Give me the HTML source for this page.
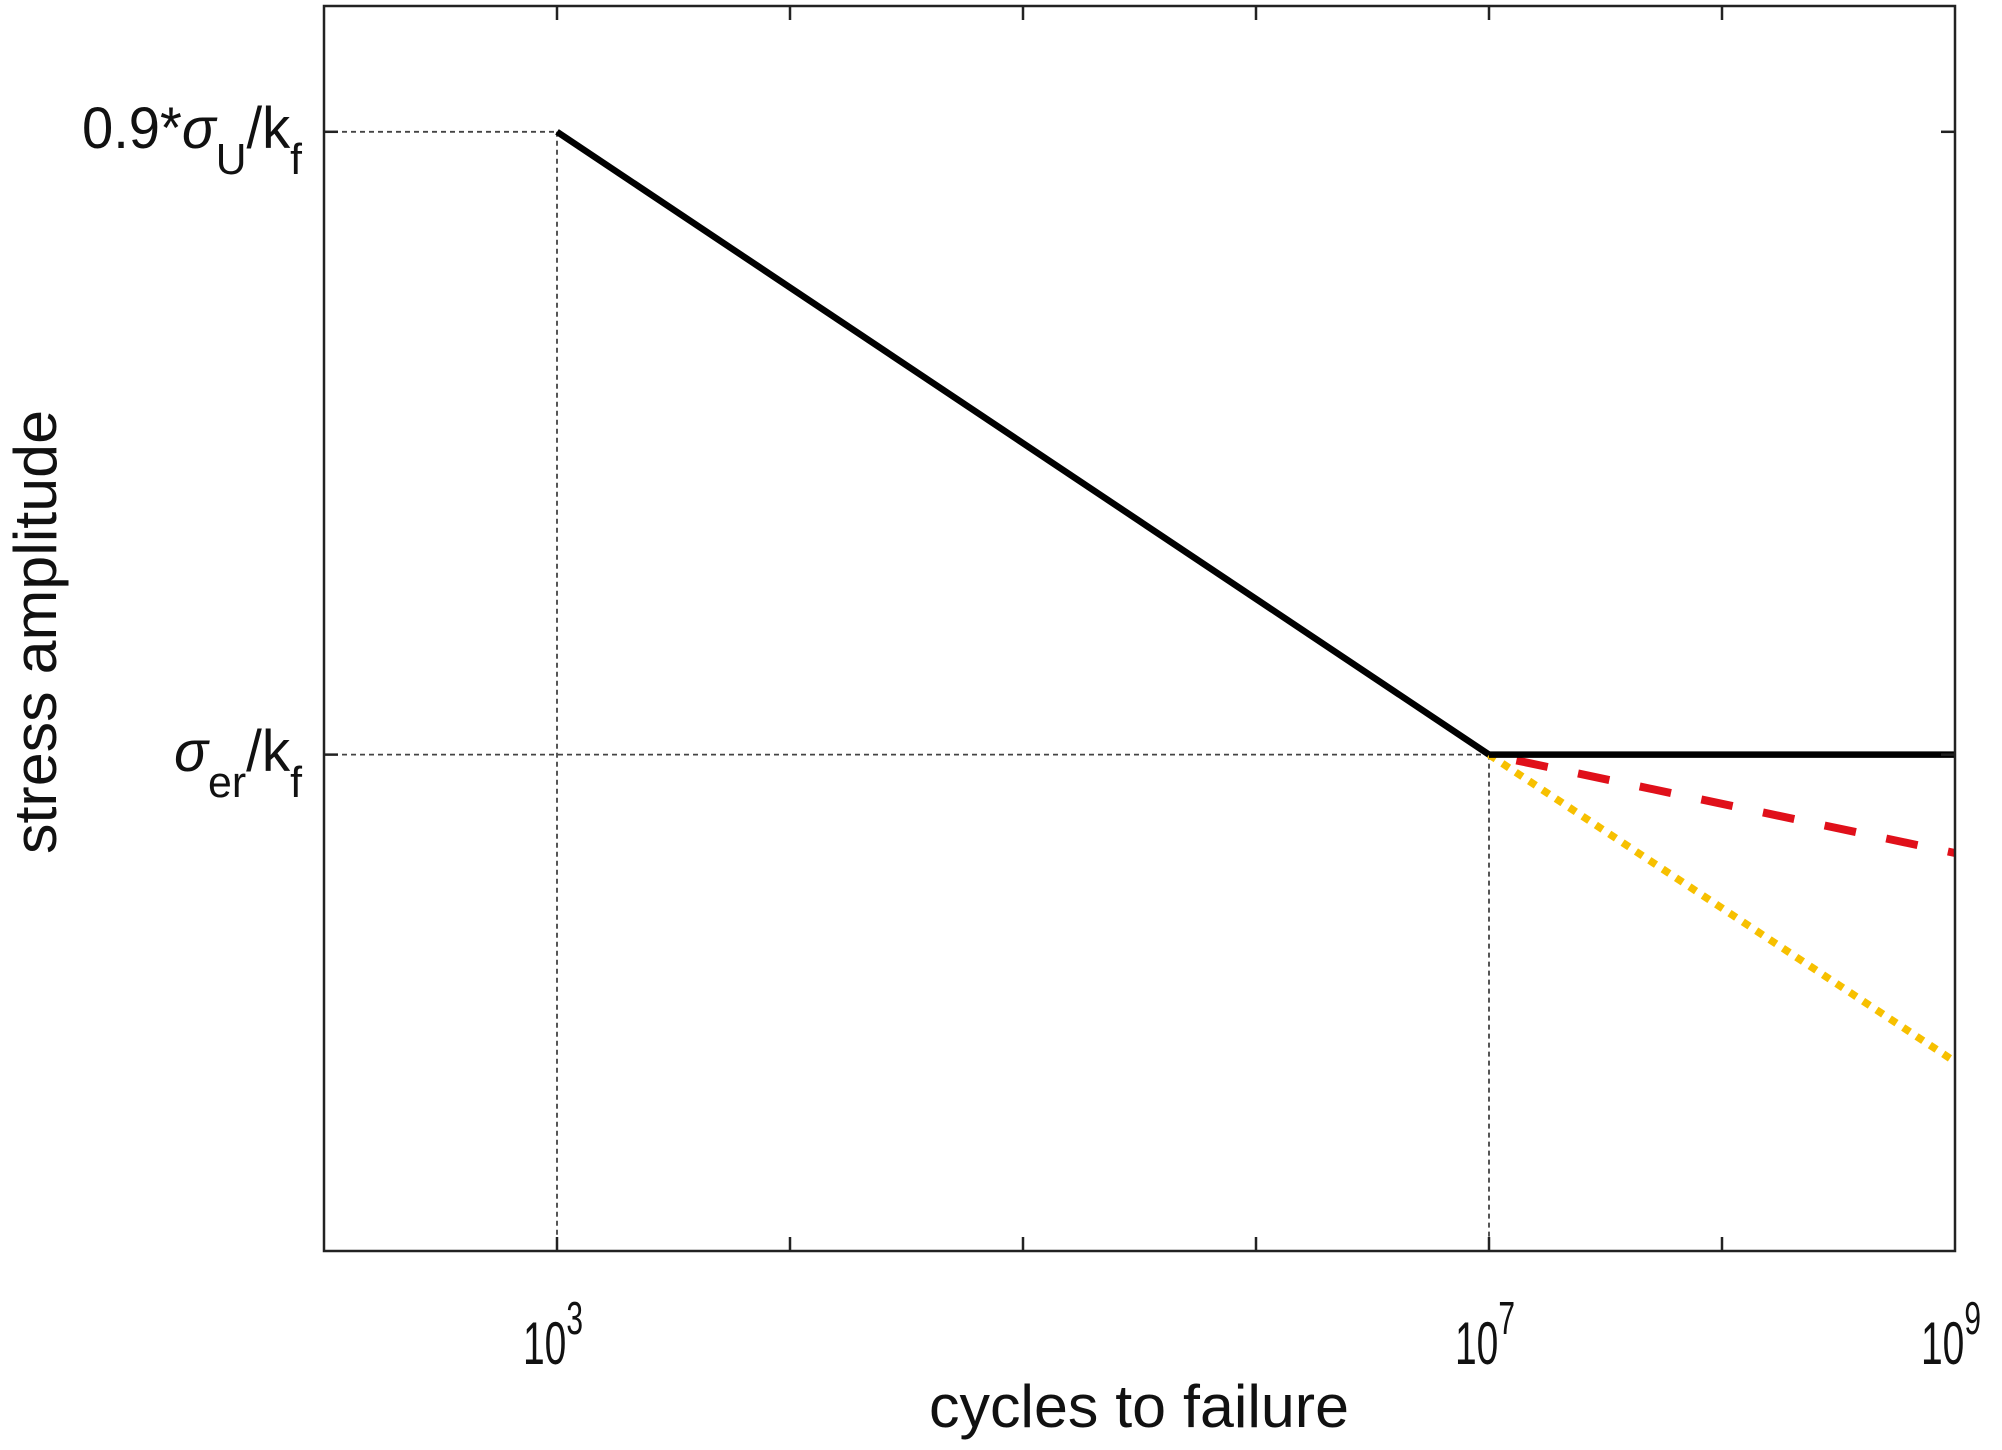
<!DOCTYPE html>
<html><head><meta charset="utf-8"><style>
html,body{margin:0;padding:0;background:#fff}
svg{display:block}
text{font-family:"Liberation Sans",Arial,sans-serif;fill:#111}
</style></head><body>
<svg id="chart" width="2002" height="1450" viewBox="0 0 2002 1450">
<g id="guides"></g>
<g id="series"></g>
<rect x="324" y="6" width="1631" height="1245" fill="none" stroke="#222" stroke-width="2.5"/>
<g id="ticks"></g>
<g id="xlabels"></g>
<text x="302" y="148" text-anchor="end" font-size="58" textLength="220" lengthAdjust="spacingAndGlyphs">0.9*<tspan font-style="italic">σ</tspan><tspan font-size="44" dy="26">U</tspan><tspan dy="-26">/k</tspan><tspan font-size="44" dy="26">f</tspan></text>
<text x="302" y="771" text-anchor="end" font-size="58" textLength="128" lengthAdjust="spacingAndGlyphs"><tspan font-style="italic">σ</tspan><tspan font-size="44" dy="26">er</tspan><tspan dy="-26">/k</tspan><tspan font-size="44" dy="26">f</tspan></text>
<text x="1139" y="1427" text-anchor="middle" font-size="60" textLength="420" lengthAdjust="spacingAndGlyphs">cycles to failure</text>
<text x="0" y="0" text-anchor="middle" font-size="60" textLength="444" lengthAdjust="spacingAndGlyphs" transform="translate(56,632) rotate(-90)">stress amplitude</text>
</svg>
<script>
// x: log10 cycles, y: stress relative units (endurance = 1, 0.9*sigmaU = 2)
const xDomain = [2, 9];
const yDomain = [0.203, 2.202];
const tickDecades = [3, 4, 5, 6, 7, 8];
const labelDecades = [3, 7, 9];
const basquinX = [3, 7];
const basquinY = [2.0, 1.0];
const plateauX = [7, 9];
const plateauY = [1.0, 1.0];
const redX = [7, 9];
const redY = [1.0, 0.842];
const yellowX = [7, 9];
const yellowY = [1.0, 0.507];
const yLevels = [2.0, 1.0];

const L=324,R=1955,T=6,B=1251;
const NS='http://www.w3.org/2000/svg';
function sx(v){return L+(v-xDomain[0])/(xDomain[1]-xDomain[0])*(R-L);}
function sy(v){return B-(v-yDomain[0])/(yDomain[1]-yDomain[0])*(B-T);}
function mk(tag,attrs,parent){const e=document.createElementNS(NS,tag);for(const k in attrs)e.setAttribute(k,attrs[k]);parent.appendChild(e);return e;}

const guides=document.getElementById('guides');
yLevels.forEach((lv,i)=>{
  const xEnd = i===0 ? basquinX[0] : basquinX[1];
  const h=mk('line',{x1:L,y1:sy(lv),x2:sx(xEnd),y2:sy(lv),stroke:'#444','stroke-width':1.8,'stroke-dasharray':'5,4'},guides);
  
  
  const v=mk('line',{x1:sx(xEnd),y1:sy(lv),x2:sx(xEnd),y2:B,stroke:'#444','stroke-width':1.8,'stroke-dasharray':'5,4'},guides);
  
  
});

const series=document.getElementById('series');
function poly(xs,ys,attrs){const pts=xs.map((x,i)=>sx(x)+','+sy(ys[i])).join(' ');return mk('polyline',Object.assign({points:pts,fill:'none'},attrs),series);}
const yl=poly(yellowX,yellowY,{stroke:'#f7c000','stroke-width':7.5,'stroke-dasharray':'8,8'});


const rd=poly(redX,redY,{stroke:'#e0101a','stroke-width':8,'stroke-dasharray':'32,31','stroke-dashoffset':'-28'});


const bq=poly(basquinX,basquinY,{stroke:'#000','stroke-width':6.5});


const pl=poly(plateauX,plateauY,{stroke:'#000','stroke-width':6.5});



const ticks=document.getElementById('ticks');
tickDecades.forEach(d=>{
  const a=mk('line',{x1:sx(d),y1:B,x2:sx(d),y2:B-14,stroke:'#222','stroke-width':2.5},ticks);
  
  
  const b=mk('line',{x1:sx(d),y1:T,x2:sx(d),y2:T+14,stroke:'#222','stroke-width':2.5},ticks);
  
  
});
yLevels.forEach(lv=>{
  const a=mk('line',{x1:L,y1:sy(lv),x2:L+14,y2:sy(lv),stroke:'#222','stroke-width':2.5},ticks);
  
  
  const b=mk('line',{x1:R,y1:sy(lv),x2:R-14,y2:sy(lv),stroke:'#222','stroke-width':2.5},ticks);
  
  
});

const xl=document.getElementById('xlabels');
labelDecades.forEach(d=>{
  const t=mk('text',{x:sx(d)-4,y:1364,'text-anchor':'middle','font-size':60,textLength:'60',lengthAdjust:'spacingAndGlyphs'},xl);
  
  
  t.textContent='10';
  const s=mk('tspan',{'font-size':46,dy:-30},t);
  s.textContent=String(d);
});
</script>
</body></html>
